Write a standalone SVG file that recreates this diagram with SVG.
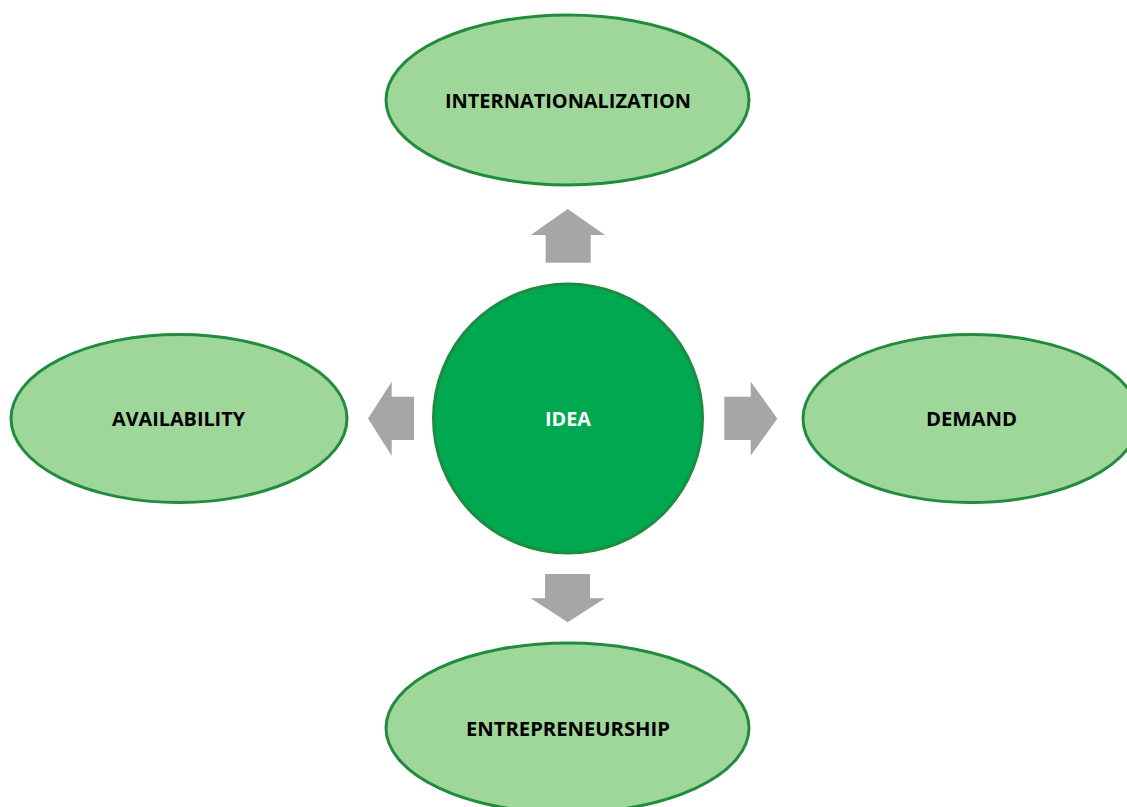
<svg xmlns="http://www.w3.org/2000/svg" width="1127" height="807" viewBox="0 0 1127 807">
<style>
.node{fill:#9ED799;stroke:#218B3E;stroke-width:3}
.core{fill:#00A84F;stroke:#1E8B43;stroke-width:3}
.arr{fill:#A6A6A6;stroke:none}
text{font-family:"Open Sans","Liberation Sans",Arial,sans-serif;font-weight:bold;font-size:20px;text-anchor:middle}
.dark{fill:#000}
.light{fill:#fff}
</style>
<rect width="1127" height="807" fill="#fff"/>
<g id="connectors">
<polygon class="arr" points="567.7,209 605,235 590.7,235 590.7,262.7 545.7,262.7 545.7,235 530.7,235"/>
<polygon class="arr" points="545,574 590,574 590,598.3 605,598.3 567.7,622.3 530.7,598.3 545,598.3"/>
<polygon class="arr" points="368,418.5 391.7,381.7 391.7,396.7 414,396.7 414,440 391.7,440 391.7,455.7"/>
<polygon class="arr" points="724.3,396.7 750.7,396.7 750.7,381.7 777.3,418.5 750.7,455.7 750.7,440 724.3,440"/>
</g>
<g id="idea">
<circle class="core" cx="568" cy="418.5" r="134.5"/>
<text class="light" x="568" y="426" textLength="46" lengthAdjust="spacingAndGlyphs">IDEA</text>
</g>
<g id="internationalization">
<ellipse class="node" cx="567.5" cy="100" rx="181.5" ry="85"/>
<text class="dark" x="568" y="108" textLength="246" lengthAdjust="spacingAndGlyphs">INTERNATIONALIZATION</text>
</g>
<g id="availability">
<ellipse class="node" cx="179" cy="418.5" rx="168" ry="84"/>
<text class="dark" x="178.5" y="426" textLength="133" lengthAdjust="spacingAndGlyphs">AVAILABILITY</text>
</g>
<g id="demand">
<ellipse class="node" cx="971" cy="418.5" rx="168" ry="84"/>
<text class="dark" x="971.5" y="426" textLength="91" lengthAdjust="spacingAndGlyphs">DEMAND</text>
</g>
<g id="entrepreneurship">
<ellipse class="node" cx="567.5" cy="728" rx="181.5" ry="85"/>
<text class="dark" x="568" y="736" textLength="204" lengthAdjust="spacingAndGlyphs">ENTREPRENEURSHIP</text>
</g>
</svg>
